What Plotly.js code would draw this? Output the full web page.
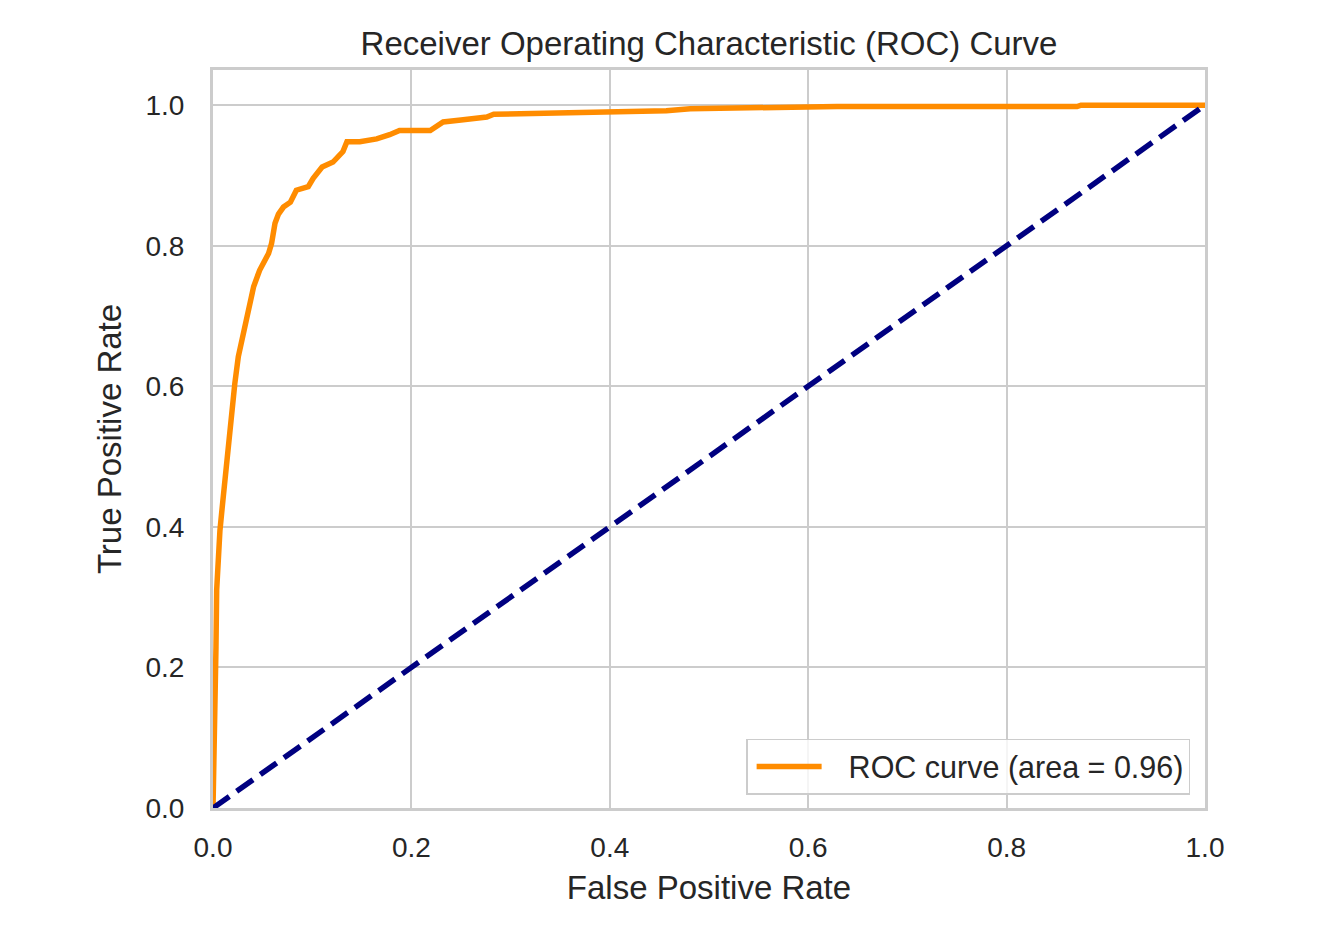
<!DOCTYPE html>
<html>
<head>
<meta charset="utf-8">
<script src="https://cdn.plot.ly/plotly-3.0.1.min.js"></script>
<style>html,body{margin:0;padding:0;background:#fff;}#chart{width:1342px;height:928px;}</style>
</head>
<body>
<div id="chart"></div>
<script>
// ROC curve points
const fpr = [0, 0.001, 0.002, 0.003, 0.0037, 0.005, 0.007, 0.010, 0.012, 0.014, 0.019, 0.022, 0.0255, 0.031, 0.036, 0.039, 0.041, 0.047, 0.049, 0.056, 0.059, 0.0625, 0.066, 0.071, 0.078, 0.084, 0.096, 0.101, 0.110, 0.121, 0.131, 0.135, 0.148, 0.165, 0.178, 0.188, 0.219, 0.225, 0.232, 0.250, 0.276, 0.283, 0.340, 0.345, 0.400, 0.457, 0.481, 0.551, 0.629, 0.871, 0.875, 1.0];
const tpr = [0, 0.06, 0.135, 0.229, 0.31, 0.35, 0.395, 0.438, 0.467, 0.50, 0.557, 0.604, 0.642, 0.680, 0.713, 0.737, 0.742, 0.765, 0.770, 0.789, 0.803, 0.832, 0.845, 0.855, 0.862, 0.879, 0.884, 0.896, 0.912, 0.919, 0.934, 0.948, 0.948, 0.952, 0.958, 0.964, 0.964, 0.970, 0.976, 0.979, 0.983, 0.987, 0.988, 0.990, 0.990, 0.992, 0.995, 0.997, 0.998, 0.998, 1.0, 1.0];
const chanceX = [0, 1];
const chanceY = [0, 1];
const rocLabel = 'ROC curve (area = 0.96)';
const titleText = 'Receiver Operating Characteristic (ROC) Curve';
const xLabel = 'False Positive Rate';
const yLabel = 'True Positive Rate';
const tickVals = [0, 0.2, 0.4, 0.6, 0.8, 1.0];
const tickText = ['0.0', '0.2', '0.4', '0.6', '0.8', '1.0'];

const FONT = 'Liberation Sans, Arial, Helvetica, sans-serif';
const TXT = '#262626';

const traces = [
  {x: fpr, y: tpr, mode: 'lines', name: rocLabel,
   line: {color: '#ff8c00', width: 5.5}},
  {x: chanceX, y: chanceY, mode: 'lines', showlegend: false,
   line: {color: '#000080', width: 5.5, dash: '20px,9px'}}
];

const axisCommon = {
  showgrid: true, gridcolor: '#cccccc', gridwidth: 2,
  showline: true, linecolor: '#cccccc', linewidth: 3, mirror: true,
  zeroline: false,
  ticks: 'outside', tickcolor: 'rgba(0,0,0,0)',
  tickvals: tickVals, ticktext: tickText,
  tickfont: {family: FONT, size: 28, color: TXT}
};

const layout = {
  width: 1342, height: 928,
  margin: {l: 213, r: 137, t: 70, b: 120},
  paper_bgcolor: '#ffffff', plot_bgcolor: '#ffffff',
  font: {family: FONT, color: TXT},
  title: {text: titleText, font: {family: FONT, size: 33, color: TXT},
          x: 0.5, xref: 'paper', xanchor: 'center', y: 1 - 43/928, yref: 'container', yanchor: 'middle'},
  xaxis: Object.assign({}, axisCommon, {range: [0, 1], ticklen: 12,
    title: {text: xLabel, font: {family: FONT, size: 33, color: TXT}, standoff: 15}}),
  yaxis: Object.assign({}, axisCommon, {range: [0, 1.05], ticklen: 20,
    title: {text: yLabel, font: {family: FONT, size: 33, color: TXT}, standoff: 14}}),
  showlegend: true,
  legend: {x: 0.985, xanchor: 'right', y: 0.018, yanchor: 'bottom',
    itemwidth: 91,
    bgcolor: 'rgba(255,255,255,0.8)', bordercolor: '#cccccc', borderwidth: 1.5,
    font: {family: FONT, size: 30.5, color: TXT}}
};

Plotly.newPlot('chart', traces, layout, {displayModeBar: false, staticPlot: true}).then(function (gd) {
  // lengthen the legend line sample to match the reference
  gd.querySelectorAll('.legend .legendlines path').forEach(function (p) {
    p.setAttribute('d', 'M9,0h65');
  });
});
</script>
</body>
</html>
